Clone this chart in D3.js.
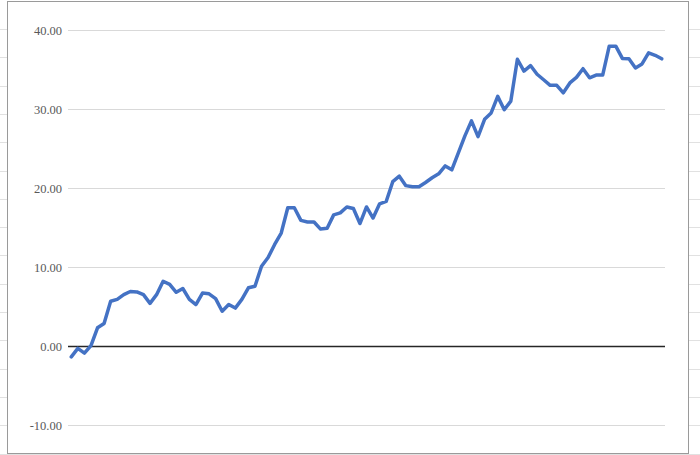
<!DOCTYPE html>
<html lang="en">
<head>
  <meta charset="UTF-8" />
  <title>Line chart</title>
  <script src="https://d3js.org/d3.v7.min.js"></script>
  <style>
    body {
      margin: 0;
      background-color: #ffffff;
    }
    .tick-label {
      font-family: "Liberation Serif", "Times New Roman", serif;
      font-size: 12.5px;
      fill: #595959;
    }
  </style>
</head>
<body>
  <div id="chart"></div>

  <script>
    // values, one per period
    const periods = d3.range(1, 92);
    const values = [
      -1.37, -0.3, -0.9, 0.06, 2.3, 2.85, 5.67, 5.9, 6.5, 6.9,
      6.85, 6.5, 5.4, 6.5, 8.2, 7.8, 6.8, 7.28, 5.9, 5.25,
      6.7, 6.6, 6.0, 4.4, 5.25, 4.8, 5.9, 7.37, 7.57, 10.1,
      11.2, 12.85, 14.3, 17.5, 17.5, 15.9, 15.7, 15.7, 14.8, 14.9,
      16.6, 16.85, 17.6, 17.4, 15.5, 17.6, 16.2, 18.0, 18.3, 20.8,
      21.5, 20.3, 20.15, 20.15, 20.7, 21.3, 21.8, 22.8, 22.3, 24.45,
      26.6, 28.5, 26.5, 28.7, 29.5, 31.6, 29.9, 31.0, 36.3, 34.8,
      35.5, 34.4, 33.7, 33.0, 33.0, 32.05, 33.3, 34.0, 35.1, 33.95,
      34.3, 34.3, 37.95, 37.95, 36.4, 36.35, 35.2, 35.7, 37.1, 36.8,
      36.35
    ];
    const yTicks = [-10, 0, 10, 20, 30, 40];

    const width = 700, height = 455;
    const svg = d3.select("#chart")
      .append("svg")
      .attr("width", width)
      .attr("height", height);

    // spreadsheet rows peeking out behind the chart frame
    const rows = d3.range(29, height, 28.3);
    svg.append("g")
      .selectAll("line")
      .data(rows)
      .enter().append("line")
      .attr("x1", 0).attr("x2", width)
      .attr("y1", d => Math.round(d) + 0.5)
      .attr("y2", d => Math.round(d) + 0.5)
      .attr("stroke", "#e1e1e1");

    // chart frame
    svg.append("rect")
      .attr("x", 7.5).attr("y", 1.5)
      .attr("width", 681).attr("height", 452)
      .attr("fill", "#ffffff")
      .attr("stroke", "#9a9a9a");

    const x = d3.scalePoint()
      .domain(periods)
      .range([68, 665])
      .padding(0.5);

    const y = d3.scaleLinear()
      .domain([-10, 40])
      .range([425, 30]);

    // gridlines
    svg.append("g")
      .selectAll("line")
      .data(yTicks.filter(d => d !== 0))
      .enter().append("line")
      .attr("x1", 68).attr("x2", 665)
      .attr("y1", d => Math.round(y(d)) + 0.5)
      .attr("y2", d => Math.round(y(d)) + 0.5)
      .attr("stroke", "#d9d9d9");

    // y axis labels, plain hyphen for negatives like the spreadsheet
    const yAxis = d3.axisLeft(y)
      .tickValues(yTicks)
      .tickFormat(d => d.toFixed(2))
      .tickSize(0)
      .tickPadding(6);

    svg.append("g")
      .attr("transform", "translate(68,0)")
      .call(yAxis)
      .call(g => g.select(".domain").remove())
      .call(g => g.selectAll("text").attr("class", "tick-label"));

    // zero (category) axis line
    svg.append("line")
      .attr("x1", 68).attr("x2", 665)
      .attr("y1", Math.round(y(0)) + 0.5)
      .attr("y2", Math.round(y(0)) + 0.5)
      .attr("stroke", "#262626")
      .attr("stroke-width", 1.3);

    const line = d3.line()
      .x((d, i) => x(periods[i]))
      .y(d => y(d));

    svg.append("path")
      .datum(values)
      .attr("fill", "none")
      .attr("stroke", "#4472c4")
      .attr("stroke-width", 3.5)
      .attr("stroke-linejoin", "round")
      .attr("stroke-linecap", "round")
      .attr("d", line);
  </script>
</body>
</html>
